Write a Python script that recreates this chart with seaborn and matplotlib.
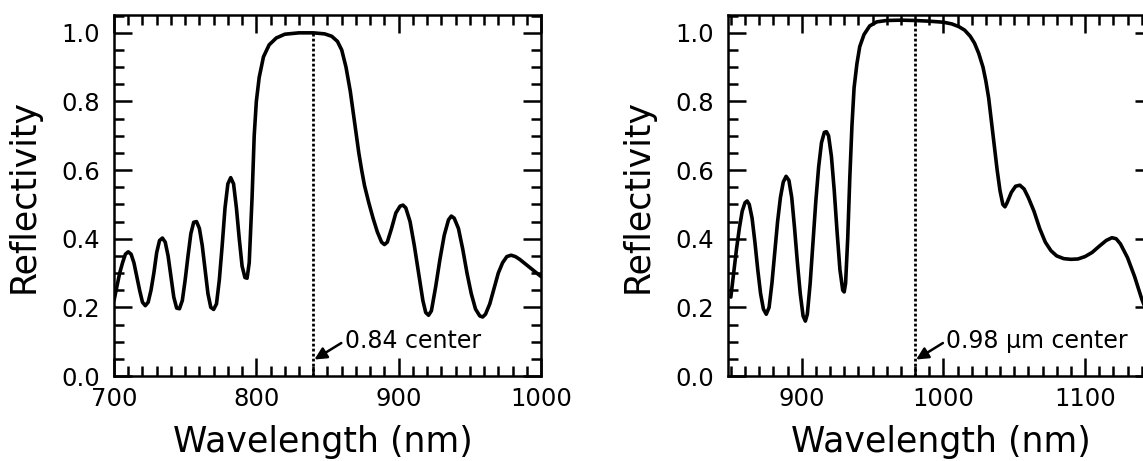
import matplotlib
matplotlib.use("Agg")
import matplotlib.pyplot as plt
from matplotlib.ticker import MultipleLocator
import seaborn as sns
import pandas as pd

# ---------------- data ----------------
left_wavelength = [700, 702, 704, 706, 708, 710, 712, 714, 716, 718, 720, 722, 724, 726, 728,
                   730, 732, 734, 736, 738, 740, 742, 744, 746, 748, 750, 752, 754, 756, 758,
                   760, 762, 764, 766, 768, 770, 772, 774, 776, 778, 780, 782, 784, 786, 788,
                   790, 792, 793.5, 795, 797, 798.5, 800, 802, 805, 809, 814, 820, 830, 840,
                   848, 853, 857, 860, 863, 866, 868, 870, 872, 874, 876, 879, 882, 885, 888,
                   890, 892, 895, 898, 901, 903, 905, 908, 911, 914, 917, 919, 921, 923, 926,
                   929, 932, 935, 937, 939, 942, 945, 948, 951, 954, 957, 959, 961, 964, 967,
                   970, 973, 976, 979, 982, 985, 988, 991, 994, 997, 1000]
left_reflectivity = [0.22, 0.26, 0.30, 0.33, 0.355, 0.362, 0.355, 0.33, 0.29, 0.25, 0.215, 0.205, 0.215, 0.25, 0.30,
                     0.36, 0.395, 0.402, 0.39, 0.35, 0.29, 0.23, 0.198, 0.196, 0.22, 0.28, 0.35, 0.415, 0.448, 0.45,
                     0.43, 0.38, 0.31, 0.24, 0.20, 0.194, 0.21, 0.28, 0.38, 0.49, 0.56, 0.578, 0.56, 0.49, 0.40,
                     0.32, 0.287, 0.285, 0.33, 0.52, 0.70, 0.80, 0.87, 0.93, 0.965, 0.985, 0.996, 1.0, 1.0,
                     0.997, 0.99, 0.975, 0.95, 0.90, 0.83, 0.77, 0.71, 0.65, 0.60, 0.555, 0.505, 0.46, 0.42, 0.39,
                     0.383, 0.39, 0.43, 0.475, 0.495, 0.498, 0.49, 0.45, 0.38, 0.30, 0.22, 0.185, 0.177, 0.19, 0.26,
                     0.34, 0.41, 0.455, 0.466, 0.46, 0.43, 0.37, 0.30, 0.24, 0.195, 0.175, 0.172, 0.18, 0.21, 0.255,
                     0.30, 0.33, 0.348, 0.352, 0.348, 0.34, 0.33, 0.32, 0.31, 0.30, 0.29]

right_wavelength = [850, 852, 854, 856, 858, 860, 861.5, 863, 865, 867, 869, 871, 873, 875, 877,
                    879, 881, 883, 885, 887, 889, 891, 893, 895, 897, 899, 901, 902.6, 904, 906,
                    908, 910, 912, 914, 916, 917.5, 919, 921, 923, 925, 927, 929, 930, 931, 932.5,
                    934, 935.5, 937, 939, 941, 944, 948, 953, 960, 970, 980, 990, 1000, 1006, 1011,
                    1015, 1019, 1022, 1025, 1028, 1030, 1032, 1034, 1036, 1038, 1040, 1042, 1043.5,
                    1045, 1048, 1051, 1054, 1057, 1060, 1064, 1068, 1072, 1076, 1080, 1085, 1090,
                    1095, 1100, 1105, 1110, 1115, 1119, 1122, 1125, 1130, 1135, 1140, 1145, 1148]
right_reflectivity = [0.23, 0.30, 0.37, 0.43, 0.48, 0.505, 0.51, 0.50, 0.46, 0.39, 0.31, 0.24, 0.195, 0.18, 0.20,
                      0.27, 0.36, 0.45, 0.52, 0.565, 0.582, 0.57, 0.52, 0.43, 0.33, 0.24, 0.175, 0.16, 0.18, 0.27,
                      0.39, 0.51, 0.61, 0.68, 0.71, 0.712, 0.70, 0.64, 0.54, 0.42, 0.31, 0.25, 0.245, 0.27, 0.40,
                      0.58, 0.73, 0.84, 0.91, 0.96, 0.995, 1.02, 1.032, 1.036, 1.037, 1.036, 1.034, 1.031, 1.026, 1.018,
                      1.008, 0.99, 0.97, 0.94, 0.90, 0.86, 0.81, 0.74, 0.67, 0.60, 0.54, 0.50, 0.493,
                      0.505, 0.535, 0.553, 0.556, 0.545, 0.52, 0.48, 0.43, 0.39, 0.365, 0.35, 0.342, 0.34,
                      0.341, 0.348, 0.36, 0.378, 0.395, 0.403, 0.40, 0.385, 0.345, 0.29, 0.225, 0.17, 0.15]

panel_xlims = [(700, 1000), (848, 1148)]
panel_centers = [840, 980]
center_tops = [1.0, 1.036]
center_labels = ["0.84 center", "0.98 \u00b5m center"]
label_offsets = [22, 22]
x_label = "Wavelength (nm)"
y_label = "Reflectivity"

# ---------------- style ----------------
sns.set_theme(style="ticks")
plt.rcParams["font.family"] = ["DejaVu Sans"]
plt.rcParams["axes.linewidth"] = 1.8

W, H = 1143, 461
fig = plt.figure(figsize=(W / 100, H / 100), dpi=100)
axes_px = [(114, 15, 427, 361), (728, 15, 425, 361)]

curves = [
    pd.DataFrame({"wavelength": left_wavelength, "reflectivity": left_reflectivity}),
    pd.DataFrame({"wavelength": right_wavelength, "reflectivity": right_reflectivity}),
]

for i, (x0, y0, w, h) in enumerate(axes_px):
    ax = fig.add_axes([x0 / W, (H - y0 - h) / H, w / W, h / H])
    sns.lineplot(data=curves[i], x="wavelength", y="reflectivity", ax=ax,
                 color="black", linewidth=2.6, estimator=None, sort=False)
    ax.set_xlim(*panel_xlims[i])
    ax.set_ylim(0, 1.052)

    # dotted centre line
    ax.plot([panel_centers[i], panel_centers[i]], [0, center_tops[i]],
            color="black", linestyle=(0, (1, 0.8)), linewidth=2.0)

    # annotation
    ax.annotate(center_labels[i], xy=(panel_centers[i] + 0.8, 0.048),
                xytext=(panel_centers[i] + label_offsets[i], 0.102),
                ha="left", va="center", fontsize=17, color="black",
                arrowprops=dict(arrowstyle="-|>", color="black", lw=1.8,
                                mutation_scale=18, shrinkA=0, shrinkB=0,
                                relpos=(0.0, 0.5)))

    ax.xaxis.set_major_locator(MultipleLocator(100))
    ax.xaxis.set_minor_locator(MultipleLocator(10))
    ax.yaxis.set_major_locator(MultipleLocator(0.2))
    ax.yaxis.set_minor_locator(MultipleLocator(0.05))
    ax.yaxis.set_major_formatter(matplotlib.ticker.FormatStrFormatter("%.1f"))

    ax.tick_params(which="both", direction="in", top=True, right=True,
                   colors="black", width=1.8)
    ax.tick_params(which="major", length=13)
    ax.tick_params(which="minor", length=7)
    ax.tick_params(axis="x", which="major", labelsize=17.5, pad=8)
    ax.tick_params(axis="y", which="major", labelsize=17.5, pad=10)

    ax.set_xlabel(x_label, fontsize=25, color="black")
    ax.set_ylabel(y_label, fontsize=25, color="black")
    ax.xaxis.set_label_coords(0.49 if i == 0 else 0.5, -0.137)
    ax.yaxis.set_label_coords(-0.172, 0.5)
    for s in ax.spines.values():
        s.set_color("black")
        s.set_linewidth(1.8)

fig.savefig("out.png", dpi=100)
